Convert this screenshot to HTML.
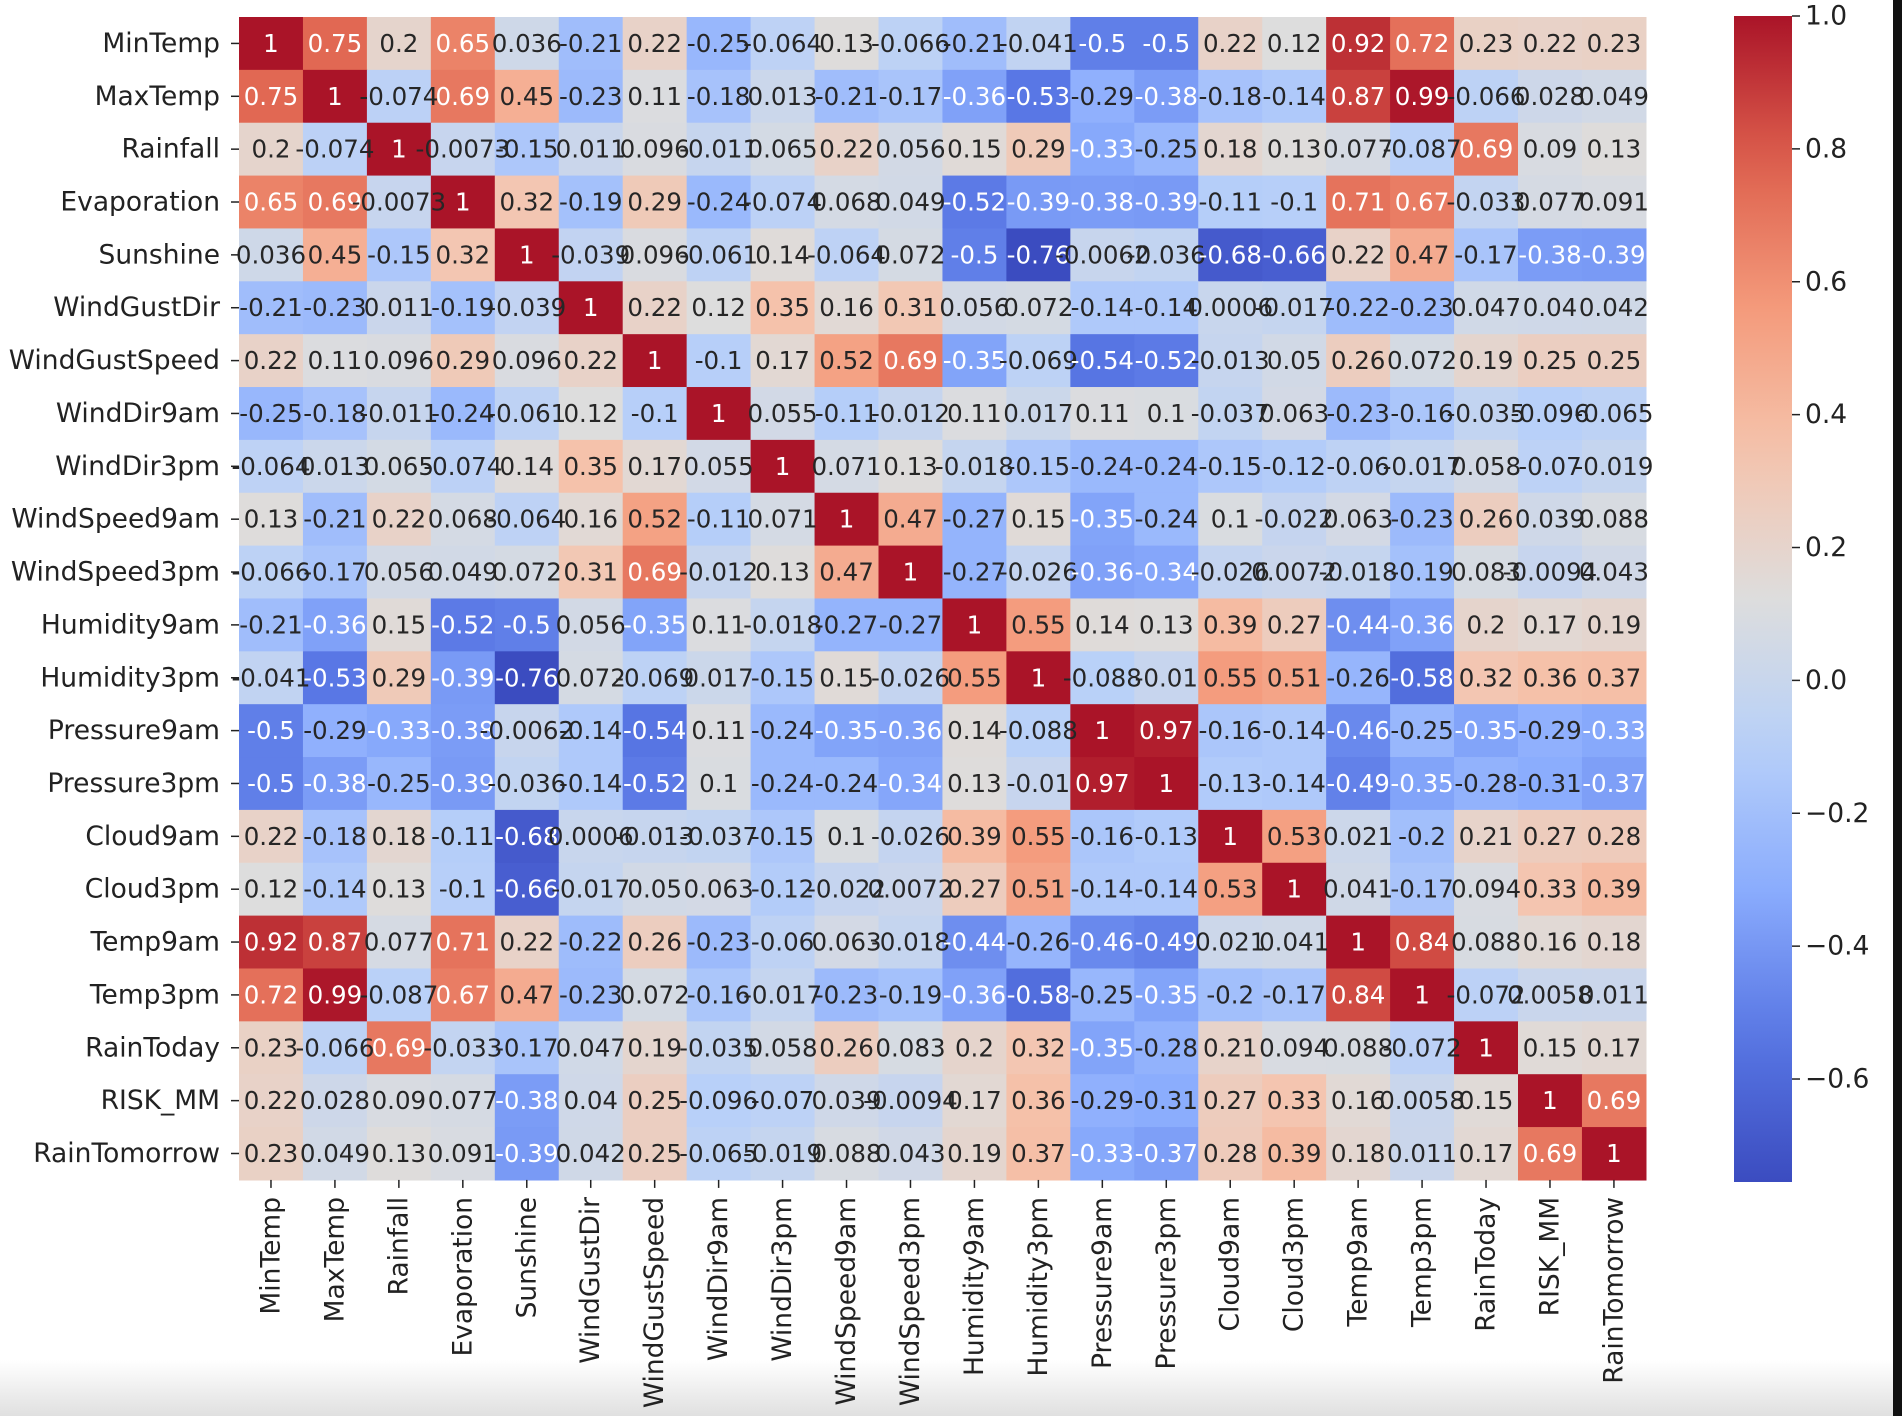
<!DOCTYPE html>
<html><head><meta charset="utf-8">
<style>
html,body{margin:0;padding:0;background:#fff;}
svg{display:block;font-family:"DejaVu Sans","Liberation Sans",sans-serif;}
</style></head>
<body>
<svg id="chart" width="1902" height="1416" viewBox="0 0 1902 1416">
<defs>
<linearGradient id="bottomfade" x1="0" y1="0" x2="0" y2="1">
<stop offset="0" stop-color="#ffffff"/><stop offset="1" stop-color="#e0e0e0"/>
</linearGradient>
<linearGradient id="cbgrad" x1="0" y1="0" x2="0" y2="1"></linearGradient>
</defs>
<rect x="0" y="1360" width="1902" height="56" fill="url(#bottomfade)"/>
<rect x="1893" y="0" width="9" height="1416" fill="#111"/>
<g id="cells"></g>
<g id="annots"></g>
<g id="yaxis"></g>
<g id="xaxis"></g>
<g id="colorbar"></g>
</svg>
<script>
const labels = ["MinTemp","MaxTemp","Rainfall","Evaporation","Sunshine","WindGustDir","WindGustSpeed","WindDir9am","WindDir3pm","WindSpeed9am","WindSpeed3pm","Humidity9am","Humidity3pm","Pressure9am","Pressure3pm","Cloud9am","Cloud3pm","Temp9am","Temp3pm","RainToday","RISK_MM","RainTomorrow"];
const row0 = [1,0.75,0.2,0.65,0.036,-0.21,0.22,-0.25,-0.064,0.13,-0.066,-0.21,-0.041,-0.5,-0.5,0.22,0.12,0.92,0.72,0.23,0.22,0.23];
const row1 = [0.75,1,-0.074,0.69,0.45,-0.23,0.11,-0.18,0.013,-0.21,-0.17,-0.36,-0.53,-0.29,-0.38,-0.18,-0.14,0.87,0.99,-0.066,0.028,0.049];
const row2 = [0.2,-0.074,1,-0.0073,-0.15,0.011,0.096,-0.011,0.065,0.22,0.056,0.15,0.29,-0.33,-0.25,0.18,0.13,0.077,-0.087,0.69,0.09,0.13];
const row3 = [0.65,0.69,-0.0073,1,0.32,-0.19,0.29,-0.24,-0.074,0.068,0.049,-0.52,-0.39,-0.38,-0.39,-0.11,-0.1,0.71,0.67,-0.033,0.077,0.091];
const row4 = [0.036,0.45,-0.15,0.32,1,-0.039,0.096,-0.061,0.14,-0.064,0.072,-0.5,-0.76,-0.0062,-0.036,-0.68,-0.66,0.22,0.47,-0.17,-0.38,-0.39];
const row5 = [-0.21,-0.23,0.011,-0.19,-0.039,1,0.22,0.12,0.35,0.16,0.31,0.056,0.072,-0.14,-0.14,0.0006,-0.017,-0.22,-0.23,0.047,0.04,0.042];
const row6 = [0.22,0.11,0.096,0.29,0.096,0.22,1,-0.1,0.17,0.52,0.69,-0.35,-0.069,-0.54,-0.52,-0.013,0.05,0.26,0.072,0.19,0.25,0.25];
const row7 = [-0.25,-0.18,-0.011,-0.24,-0.061,0.12,-0.1,1,0.055,-0.11,-0.012,0.11,0.017,0.11,0.1,-0.037,0.063,-0.23,-0.16,-0.035,-0.096,-0.065];
const row8 = [-0.064,0.013,0.065,-0.074,0.14,0.35,0.17,0.055,1,0.071,0.13,-0.018,-0.15,-0.24,-0.24,-0.15,-0.12,-0.06,-0.017,0.058,-0.07,-0.019];
const row9 = [0.13,-0.21,0.22,0.068,-0.064,0.16,0.52,-0.11,0.071,1,0.47,-0.27,0.15,-0.35,-0.24,0.1,-0.022,0.063,-0.23,0.26,0.039,0.088];
const row10 = [-0.066,-0.17,0.056,0.049,0.072,0.31,0.69,-0.012,0.13,0.47,1,-0.27,-0.026,-0.36,-0.34,-0.026,0.0072,-0.018,-0.19,0.083,-0.0094,0.043];
const row11 = [-0.21,-0.36,0.15,-0.52,-0.5,0.056,-0.35,0.11,-0.018,-0.27,-0.27,1,0.55,0.14,0.13,0.39,0.27,-0.44,-0.36,0.2,0.17,0.19];
const row12 = [-0.041,-0.53,0.29,-0.39,-0.76,0.072,-0.069,0.017,-0.15,0.15,-0.026,0.55,1,-0.088,-0.01,0.55,0.51,-0.26,-0.58,0.32,0.36,0.37];
const row13 = [-0.5,-0.29,-0.33,-0.38,-0.0062,-0.14,-0.54,0.11,-0.24,-0.35,-0.36,0.14,-0.088,1,0.97,-0.16,-0.14,-0.46,-0.25,-0.35,-0.29,-0.33];
const row14 = [-0.5,-0.38,-0.25,-0.39,-0.036,-0.14,-0.52,0.1,-0.24,-0.24,-0.34,0.13,-0.01,0.97,1,-0.13,-0.14,-0.49,-0.35,-0.28,-0.31,-0.37];
const row15 = [0.22,-0.18,0.18,-0.11,-0.68,0.0006,-0.013,-0.037,-0.15,0.1,-0.026,0.39,0.55,-0.16,-0.13,1,0.53,0.021,-0.2,0.21,0.27,0.28];
const row16 = [0.12,-0.14,0.13,-0.1,-0.66,-0.017,0.05,0.063,-0.12,-0.022,0.0072,0.27,0.51,-0.14,-0.14,0.53,1,0.041,-0.17,0.094,0.33,0.39];
const row17 = [0.92,0.87,0.077,0.71,0.22,-0.22,0.26,-0.23,-0.06,0.063,-0.018,-0.44,-0.26,-0.46,-0.49,0.021,0.041,1,0.84,0.088,0.16,0.18];
const row18 = [0.72,0.99,-0.087,0.67,0.47,-0.23,0.072,-0.16,-0.017,-0.23,-0.19,-0.36,-0.58,-0.25,-0.35,-0.2,-0.17,0.84,1,-0.072,0.0058,0.011];
const row19 = [0.23,-0.066,0.69,-0.033,-0.17,0.047,0.19,-0.035,0.058,0.26,0.083,0.2,0.32,-0.35,-0.28,0.21,0.094,0.088,-0.072,1,0.15,0.17];
const row20 = [0.22,0.028,0.09,0.077,-0.38,0.04,0.25,-0.096,-0.07,0.039,-0.0094,0.17,0.36,-0.29,-0.31,0.27,0.33,0.16,0.0058,0.15,1,0.69];
const row21 = [0.23,0.049,0.13,0.091,-0.39,0.042,0.25,-0.065,-0.019,0.088,0.043,0.19,0.37,-0.33,-0.37,0.28,0.39,0.18,0.011,0.17,0.69,1];
const matrix = [row0,row1,row2,row3,row4,row5,row6,row7,row8,row9,row10,row11,row12,row13,row14,row15,row16,row17,row18,row19,row20,row21];
const cbTicks = [1.0,0.8,0.6,0.4,0.2,0.0,-0.2,-0.4,-0.6];

const NS = "http://www.w3.org/2000/svg";
const X0 = 239, Y0 = 17, CW = 63.95, CH = 52.86;
const VMIN = -0.755, VMAX = 1.0;
const CBX = 1734, CBW = 58, CBY0 = 16, CBY1 = 1182;
const LFS = 26.5;
function xPos(i){ return X0 + i*CW; }
function yPos(i){ return Y0 + i*CH; }
function cbY(v){ return CBY0 + (VMAX - v)/(VMAX - VMIN)*(CBY1 - CBY0); }
const cmap = [[0,59,76,192],[0.125,88,118,228],[0.25,138,172,253],[0.375,184,208,249],[0.5,221,221,221],[0.625,245,196,173],[0.75,244,154,123],[0.875,222,96,77],[1,170,20,40]];
function color(v){
  let t = (v - VMIN)/(VMAX - VMIN); t = Math.max(0, Math.min(1, t));
  for (let k=1;k<cmap.length;k++){
    if (t <= cmap[k][0]){
      const a=cmap[k-1], b=cmap[k], f=(t-a[0])/(b[0]-a[0]);
      return [0,1,2].map(j=>Math.round(a[j+1]+(b[j+1]-a[j+1])*f));
    }
  }
  return [170,20,40];
}
function lum(c){
  const l = c.map(x=>{x/=255; return x<=0.03928? x/12.92 : Math.pow((x+0.055)/1.055,2.4);});
  return 0.2126*l[0]+0.7152*l[1]+0.0722*l[2];
}
function fmt(v){ return String(Number(v.toPrecision(2))); }
function mk(tag, attrs, parent){ const e=document.createElementNS(NS,tag); for(const k in attrs) e.setAttribute(k, attrs[k]); parent.appendChild(e); return e; }

const cells = document.getElementById("cells");
const annots = document.getElementById("annots");
for (let r=0;r<matrix.length;r++){
  for (let c=0;c<matrix[r].length;c++){
    const v = matrix[r][c], col = color(v);
    const rect = mk("rect",{x:xPos(c),y:yPos(r),width:CW+0.6,height:CH+0.6,fill:`rgb(${col.join(",")})`},cells);
    
    
    const t = mk("text",{x:xPos(c)+CW/2,y:yPos(r)+CH/2,"text-anchor":"middle","dominant-baseline":"central","font-size":"24.5",fill: lum(col) < 0.408 ? "#ffffff" : "#262626"},annots);
    t.textContent = fmt(v);
    
    
  }
}
const yaxis = document.getElementById("yaxis");
const xaxis = document.getElementById("xaxis");
labels.forEach((lab,i)=>{
  const yc = yPos(i)+CH/2;
  const tk = mk("line",{x1:X0-8,x2:X0,y1:yc,y2:yc,stroke:"#222","stroke-width":"1.5"},yaxis);
  
  
  const t = mk("text",{x:X0-19,y:yc,"text-anchor":"end","dominant-baseline":"central","font-size":LFS,fill:"#222"},yaxis);
  t.textContent = lab;
  
  
  const xc = xPos(i)+CW/2, yb = Y0+labels.length*CH;
  const tk2 = mk("line",{x1:xc,x2:xc,y1:yb,y2:yb+8,stroke:"#222","stroke-width":"1.5"},xaxis);
  
  
  const t2 = mk("text",{x:0,y:0,"text-anchor":"end","dominant-baseline":"central","font-size":LFS,fill:"#222",transform:`translate(${xc},${yb+17}) rotate(-90)`},xaxis);
  t2.textContent = lab;
  
  
});
const grad = document.getElementById("cbgrad");
for (let k=0;k<=20;k++){
  const v = VMAX - (VMAX-VMIN)*k/20, c = color(v);
  mk("stop",{offset:k/20,"stop-color":`rgb(${c.join(",")})`},grad);
}
const cb = document.getElementById("colorbar");
const cbr = mk("rect",{x:CBX,y:CBY0,width:CBW,height:CBY1-CBY0,fill:"url(#cbgrad)"},cb);


cbTicks.forEach(v=>{
  const y = cbY(v);
  const l = mk("line",{x1:CBX+CBW,x2:CBX+CBW+8,y1:y,y2:y,stroke:"#222","stroke-width":"1.5"},cb);
  
  
  const t = mk("text",{x:CBX+CBW+13,y:y,"dominant-baseline":"central","font-size":LFS,fill:"#222"},cb);
  t.textContent = v.toFixed(1).replace("-","\u2212");
  
  
});
</script>
</body></html>
